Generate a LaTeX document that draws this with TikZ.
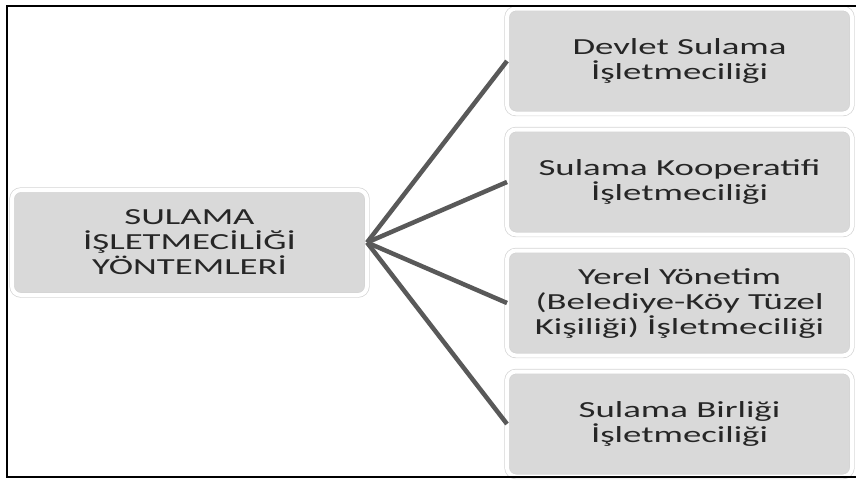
\documentclass[tikz,border=0pt]{standalone}
\usepackage{fontspec}
\setmainfont{Carlito}[FakeStretch=1.6]
\usetikzlibrary{positioning}
\definecolor{gris}{HTML}{D9D9D9}
\definecolor{oscuro}{HTML}{595959}
\definecolor{borde}{HTML}{D4D4D4}
\definecolor{texto}{HTML}{262626}

\begin{document}
\begin{tikzpicture}[x=1pt, y=-1pt, font=\fontsize{23}{25}\selectfont,
      e/.style={fill=gris, draw=borde, double=white, double distance=4pt, line width=0.7pt,
                rounded corners=9pt, align=center, text=texto, inner sep=0pt, outer sep=0pt,
                minimum height=105pt},
      c/.style={draw=oscuro, line width=4.5pt}]
    \useasboundingbox (0,0) rectangle (856,479);
    \node[e, minimum width=355pt] (y) at (189.5,242.5) {SULAMA\\İŞLETMECİLİĞİ\\YÖNTEMLERİ};
    \node[e, minimum width=345pt] (dsi) at (679.5,61) {Devlet Sulama\\İşletmeciliği};
    \node[e, minimum width=345pt, below=16pt of dsi] (koop) {Sulama Kooperatifi\\İşletmeciliği};
    \node[e, minimum width=345pt, below=16pt of koop] (yerel) {Yerel Yönetim\\(Belediye-Köy Tüzel\\Kişiliği) İşletmeciliği};
    \node[e, minimum width=345pt, below=16pt of yerel] (birlik) {Sulama Birliği\\İşletmeciliği};
    \draw[c] (y.east) -- (dsi.west);
    \draw[c] (y.east) -- (koop.west);
    \draw[c] (y.east) -- (yerel.west);
    \draw[c] (y.east) -- (birlik.west);
    % cerceve
    \draw[line width=2.2pt] (870,6) -- (7,6) -- (7,477) -- (870,477);
\end{tikzpicture}
\end{document}
